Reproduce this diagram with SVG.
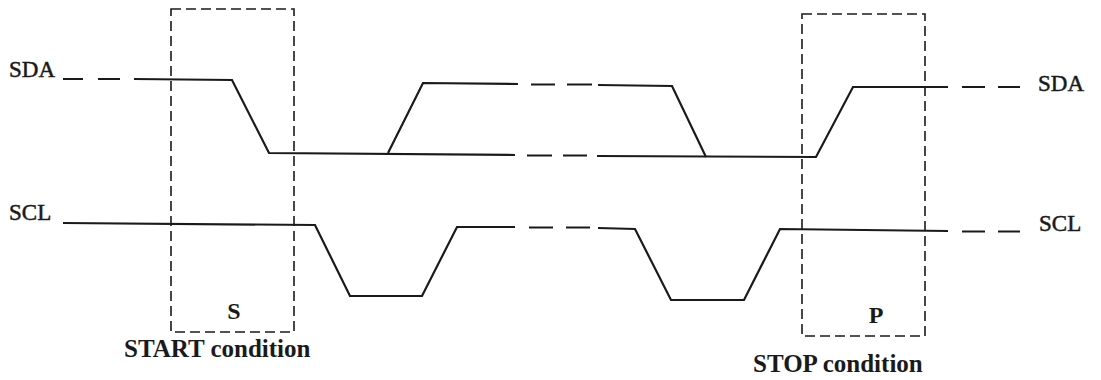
<svg xmlns="http://www.w3.org/2000/svg" width="1101" height="380" viewBox="0 0 1101 380">
  <style>
    .sig { fill: none; stroke: #1a1a1a; stroke-width: 2.2; stroke-linejoin: miter; }
    .box { fill: none; stroke: #1a1a1a; stroke-width: 1.6; stroke-dasharray: 10 5; }
    .lbl { font-family: "Liberation Serif", "Times New Roman", serif; fill: #1a1a1a; stroke: #1a1a1a; stroke-width: 0.5; font-size: 23px; }
    .cond { font-family: "Liberation Serif", "Times New Roman", serif; fill: #1a1a1a; font-size: 25px; font-weight: bold; }
    .mark { font-family: "Liberation Serif", "Times New Roman", serif; fill: #1a1a1a; font-size: 24px; font-weight: bold; }
  </style>
  <rect width="1101" height="380" fill="#ffffff"/>

  <g id="start-condition">
    <rect class="box" x="171" y="9" width="123" height="323"/>
    <text class="mark" x="234" y="319" text-anchor="middle">S</text>
    <text class="cond" x="124" y="357">START condition</text>
  </g>

  <g id="stop-condition">
    <rect class="box" x="802" y="14" width="123" height="322"/>
    <text class="mark" x="876" y="323" text-anchor="middle">P</text>
    <text class="cond" x="753" y="372">STOP condition</text>
  </g>

  <g id="label-sda-left"><text class="lbl" x="9" y="77">SDA</text></g>
  <g id="label-scl-left"><text class="lbl" x="9" y="220">SCL</text></g>
  <g id="label-sda-right"><text class="lbl" x="1038" y="91">SDA</text></g>
  <g id="label-scl-right"><text class="lbl" x="1039" y="231">SCL</text></g>

  <g id="connectors">
    <!-- SDA -->
    <path class="sig" d="M63 79 H83 M98 79 H120"/>
    <path class="sig" d="M134 79 L232 80 L269 153 L515 155"/>
    <path class="sig" d="M527 155.5 H552 M563 155.5 H587"/>
    <path class="sig" d="M597 156 L816 157 L853 87 L948 87"/>
    <path class="sig" d="M962 87 H985 M998 87 H1020"/>
    <path class="sig" d="M388 153 L423 83 L518 84"/>
    <path class="sig" d="M531 84.5 H555 M567 84.5 H592"/>
    <path class="sig" d="M598 85 L672 86 L706 157"/>
    <!-- SCL -->
    <path class="sig" d="M63 223 L315 225 L350 296 L422 296 L457 227 L515 227"/>
    <path class="sig" d="M529 227.5 H553 M566 227.5 H590"/>
    <path class="sig" d="M598 228 L635 229 L671 300 L744 300 L780 229 L948 231"/>
    <path class="sig" d="M962 231.5 H985 M998 231.5 H1020"/>
  </g>
</svg>
